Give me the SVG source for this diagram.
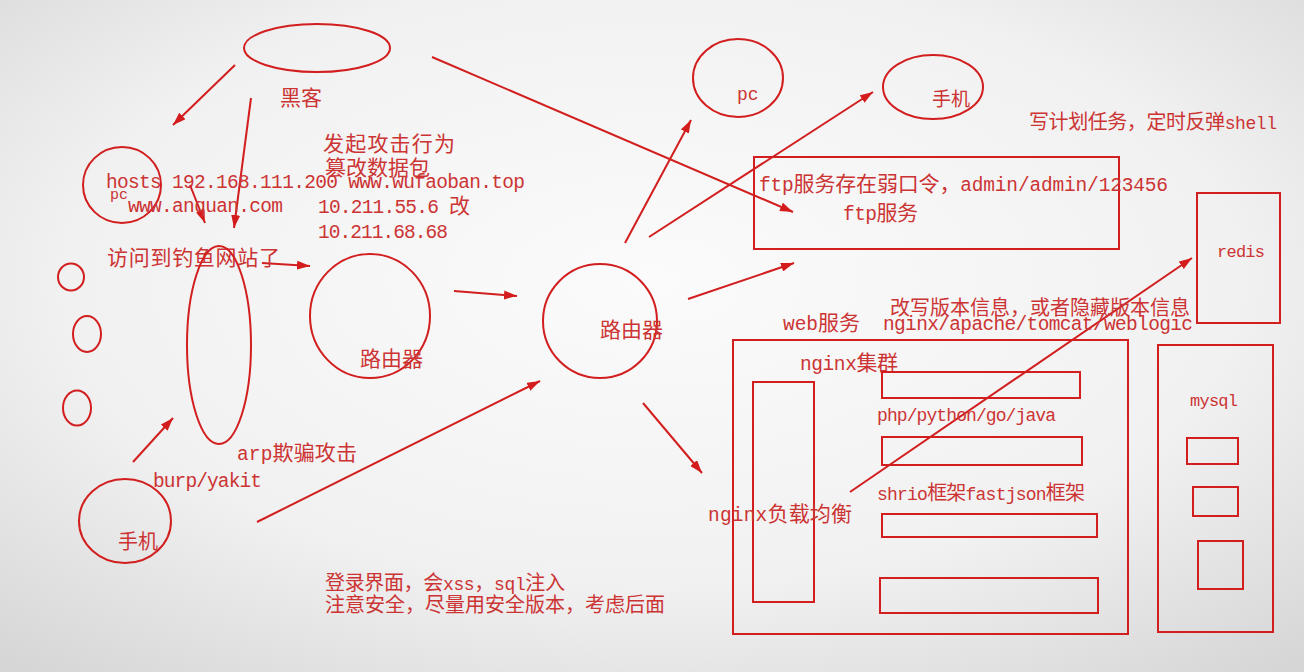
<svg xmlns="http://www.w3.org/2000/svg" width="1304" height="672" viewBox="0 0 1304 672">
<defs>
<radialGradient id="bg" cx="50%" cy="42%" r="75%">
<stop offset="0" stop-color="#fbfbfb"/>
<stop offset="0.6" stop-color="#f1f1f1"/>
<stop offset="1" stop-color="#d6d6d6"/>
</radialGradient>
<marker id="ah" viewBox="0 0 13 9" refX="13" refY="4.5" markerWidth="13" markerHeight="9" markerUnits="userSpaceOnUse" orient="auto">
<path d="M0,0 L13,4.5 L0,9 z" fill="#d41c1c"/>
</marker>
<style>
.s{fill:none;stroke:#d21e1e;stroke-width:2}
.ln{fill:none;stroke:#d21e1e;stroke-width:2;marker-end:url(#ah)}
text{fill:#cc3434;font-family:"Liberation Mono","Noto Sans CJK SC",monospace;font-size:19.5px}
.c{font-family:"Noto Sans CJK SC",sans-serif;font-size:21px}
.b{font-size:18px}
.b .c{font-size:20px}
.sm{font-size:17px}
</style>
</defs>
<rect width="1304" height="672" fill="url(#bg)"/>

<g id="connectors">
<line class="ln" x1="235" y1="65" x2="173" y2="125"/>
<line class="ln" x1="251" y1="98" x2="234" y2="228"/>
<line class="ln" x1="190" y1="185" x2="205" y2="223"/>
<line class="ln" x1="432" y1="57" x2="793" y2="212"/>
<line class="ln" x1="262" y1="263" x2="310" y2="266"/>
<line class="ln" x1="454" y1="291" x2="517" y2="296"/>
<line class="ln" x1="625" y1="243" x2="691" y2="120"/>
<line class="ln" x1="649" y1="237" x2="873" y2="92"/>
<line class="ln" x1="688" y1="299" x2="794" y2="263"/>
<line class="ln" x1="643" y1="403" x2="702" y2="473"/>
<line class="ln" x1="133" y1="462" x2="173" y2="418"/>
<line class="ln" x1="257" y1="522" x2="540" y2="381"/>
<line class="ln" x1="850" y1="492" x2="1192" y2="258"/>
</g>

<g id="hacker">
<ellipse class="s" cx="317" cy="48" rx="73" ry="24"/>
<text x="280" y="105"><tspan class="c">黑客</tspan></text>
</g>

<g id="pc-left">
<ellipse class="s" cx="122" cy="185" rx="39" ry="38"/>
<text x="110" y="199" style="font-size:15px">pc</text>
</g>

<g id="hosts-note">
<text x="106" y="188" textLength="419">hosts 192.168.111.200 www.wufaoban.top</text>
<text x="128" y="212" textLength="155">www.anquan.com</text>
<text x="323" y="151" textLength="132"><tspan class="c">发起攻击行为</tspan></text>
<text x="325" y="175" textLength="105"><tspan class="c">篡改数据包</tspan></text>
<text x="318" y="213" textLength="152">10.211.55.6 <tspan class="c">改</tspan></text>
<text x="318" y="238" textLength="130">10.211.68.68</text>
<text x="107" y="265" textLength="173"><tspan class="c">访问到钓鱼网站了</tspan></text>
</g>

<g id="hosts-small">
<ellipse class="s" cx="71" cy="277" rx="13" ry="13.5"/>
<ellipse class="s" cx="87" cy="334" rx="14" ry="18"/>
<ellipse class="s" cx="77" cy="408" rx="14" ry="17.5"/>
</g>

<g id="switch">
<ellipse class="s" cx="219" cy="345" rx="32" ry="99"/>
<text x="237" y="460" textLength="120">arp<tspan class="c">欺骗攻击</tspan></text>
</g>

<g id="phone-left">
<ellipse class="s" cx="125" cy="521" rx="46" ry="42"/>
<text x="118" y="549"><tspan class="c" style="font-size:20px">手机</tspan></text>
<text x="153" y="487" textLength="109">burp/yakit</text>
</g>

<g id="router1">
<ellipse class="s" cx="370" cy="316" rx="60" ry="62"/>
<text x="360" y="366"><tspan class="c">路由器</tspan></text>
</g>

<g id="router2">
<ellipse class="s" cx="600" cy="321" rx="57" ry="57"/>
<text x="600" y="337"><tspan class="c">路由器</tspan></text>
</g>

<g id="login-note">
<text class="b" x="325" y="590" textLength="240"><tspan class="c">登录界面，会</tspan>xss<tspan class="c">，</tspan>sql<tspan class="c">注入</tspan></text>
<text class="b" x="325" y="612" textLength="340"><tspan class="c">注意安全，尽量用安全版本，考虑后面</tspan></text>
</g>

<g id="pc-top">
<ellipse class="s" cx="738" cy="78" rx="45" ry="39"/>
<text class="b" x="737" y="100">pc</text>
</g>

<g id="phone-top">
<ellipse class="s" cx="933" cy="87" rx="50" ry="32"/>
<text x="932" y="106"><tspan class="c" style="font-size:19px">手机</tspan></text>
</g>

<g id="cron-note">
<text class="b" x="1029" y="129" textLength="248"><tspan class="c">写计划任务，定时反弹</tspan>shell</text>
</g>

<g id="ftp">
<rect class="s" x="754" y="157" width="365" height="92"/>
<text x="759" y="191" textLength="409">ftp<tspan class="c">服务存在弱口令，</tspan>admin/admin/123456</text>
<text x="843" y="220" textLength="75">ftp<tspan class="c">服务</tspan></text>
</g>

<g id="redis">
<rect class="s" x="1197" y="193" width="83" height="130"/>
<text class="sm" x="1217" y="257" textLength="48">redis</text>
</g>

<g id="web">
<text class="b" x="890" y="315" textLength="300"><tspan class="c">改写版本信息，或者隐藏版本信息</tspan></text>
<text x="783" y="330" textLength="77">web<tspan class="c">服务</tspan></text>
<text x="883" y="330" textLength="310">nginx/apache/tomcat/weblogic</text>
<rect class="s" x="733" y="340" width="395" height="294"/>
<rect class="s" x="753" y="382" width="61" height="220"/>
<text x="800" y="370" textLength="98">nginx<tspan class="c">集群</tspan></text>
<rect class="s" x="882" y="372" width="198" height="26"/>
<text class="b" x="877" y="421" textLength="179">php/python/go/java</text>
<rect class="s" x="882" y="437" width="200" height="28"/>
<text class="b" x="877" y="500" textLength="208">shrio<tspan class="c">框架</tspan>fastjson<tspan class="c">框架</tspan></text>
<rect class="s" x="882" y="514" width="215" height="23"/>
<rect class="s" x="880" y="578" width="218" height="35"/>
<text x="708" y="521" textLength="144">nginx<tspan class="c">负载均衡</tspan></text>
</g>

<g id="mysql">
<rect class="s" x="1158" y="345" width="115" height="287"/>
<text class="sm" x="1190" y="406" textLength="48">mysql</text>
<rect class="s" x="1187" y="438" width="51" height="26"/>
<rect class="s" x="1193" y="487" width="45" height="29"/>
<rect class="s" x="1198" y="541" width="45" height="48"/>
</g>
</svg>
